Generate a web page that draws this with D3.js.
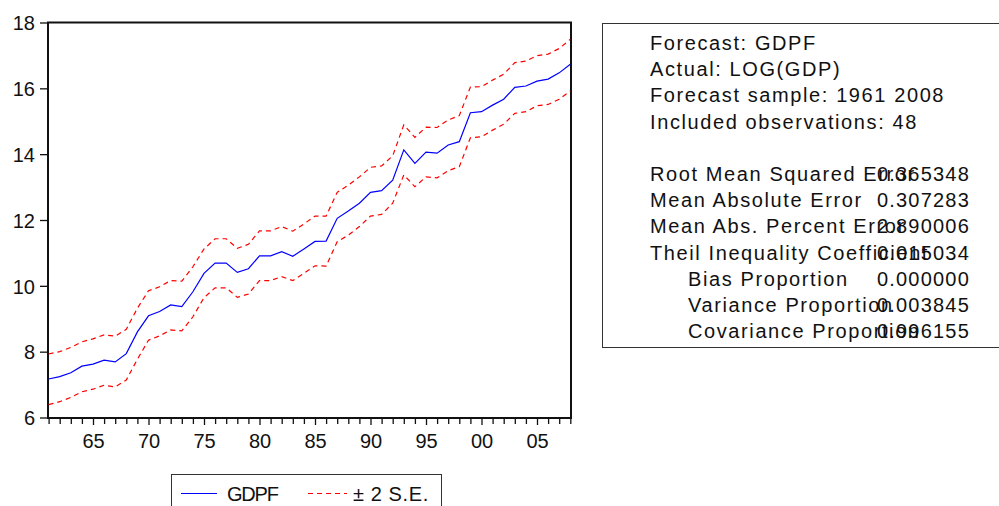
<!DOCTYPE html>
<html>
<head>
<meta charset="utf-8">
<script src="https://cdn.jsdelivr.net/npm/d3@7"></script>
<style>
  html, body { margin: 0; padding: 0; background: #fff; }
  svg { display: block; font-family: "Liberation Sans", Arial, sans-serif; }
</style>
</head>
<body>
<div id="chart"></div>
<script>
// Годы прогноза
const years = d3.range(1961, 2009);

// Прогноз GDPF
const gdpf = [
  7.17, 7.24, 7.36, 7.56, 7.62, 7.74, 7.69, 7.94, 8.60, 9.09,
  9.22, 9.42, 9.37, 9.82, 10.38, 10.69, 10.69, 10.41, 10.52, 10.91,
  10.91, 11.04, 10.90, 11.12, 11.35, 11.36, 12.05, 12.27, 12.51, 12.84,
  12.89, 13.21, 14.13, 13.72, 14.06, 14.03, 14.28, 14.38, 15.26, 15.29,
  15.49, 15.67, 16.03, 16.07, 16.22, 16.28, 16.47, 16.73
];

// Верхняя граница +2 S.E.
const upper = [
  7.93, 8.00, 8.13, 8.30, 8.39, 8.51, 8.47, 8.68, 9.32, 9.85,
  9.97, 10.16, 10.14, 10.58, 11.12, 11.43, 11.43, 11.14, 11.26, 11.67,
  11.67, 11.80, 11.66, 11.88, 12.12, 12.12, 12.84, 13.06, 13.31, 13.60,
  13.64, 13.95, 14.89, 14.51, 14.82, 14.81, 15.04, 15.17, 16.04, 16.05,
  16.25, 16.43, 16.78, 16.83, 16.99, 17.04, 17.21, 17.49
];

// Нижняя граница -2 S.E.
const lower = [
  6.39, 6.48, 6.61, 6.78, 6.86, 6.98, 6.93, 7.14, 7.77, 8.35,
  8.48, 8.66, 8.63, 9.06, 9.64, 9.94, 9.94, 9.65, 9.75, 10.16,
  10.16, 10.28, 10.16, 10.38, 10.61, 10.60, 11.34, 11.54, 11.80, 12.12,
  12.17, 12.51, 13.37, 13.01, 13.31, 13.28, 13.50, 13.62, 14.50, 14.53,
  14.73, 14.91, 15.24, 15.29, 15.47, 15.51, 15.67, 15.92
];

const yTicks = [6, 8, 10, 12, 14, 16, 18];
const xLabelYears = [1965, 1970, 1975, 1980, 1985, 1990, 1995, 2000, 2005];

// Текст справа
const headerLines = [
  "Forecast: GDPF",
  "Actual: LOG(GDP)",
  "Forecast sample: 1961 2008",
  "Included observations: 48"
];
const statNames = [
  "Root Mean Squared Error",
  "Mean Absolute Error",
  "Mean Abs. Percent Error",
  "Theil Inequality Coefficient",
  "Bias Proportion",
  "Variance Proportion",
  "Covariance Proportion"
];
const statValues = ["0.365348", "0.307283", "2.890006", "0.015034", "0.000000", "0.003845", "0.996155"];
const statIndent = [false, false, false, false, true, true, true];

const legendLabels = ["GDPF", "\u00b1 2 S.E."];

const width = 999;
const height = 506;

const svg = d3.select("#chart")
  .append("svg")
  .attr("width", width)
  .attr("height", height);

// Область графика
const plot = { left: 48, right: 571, top: 22.5, bottom: 418 };

const x = d3.scaleLinear()
  .domain([1961, 2008])
  .range([48.6, 570.3]);

const y = d3.scaleLinear()
  .domain([6, 18])
  .range([417.5, 22.5]);

// Рамка
svg.append("rect")
  .attr("x", plot.left)
  .attr("y", plot.top)
  .attr("width", plot.right - plot.left)
  .attr("height", plot.bottom - plot.top)
  .attr("fill", "none")
  .attr("stroke", "#111")
  .attr("stroke-width", 2);

// Ось Y
const yAxis = svg.append("g")
  .attr("transform", `translate(${plot.left},0)`)
  .call(d3.axisLeft(y).tickValues(yTicks).tickSize(8).tickPadding(5));
yAxis.select(".domain").remove();
yAxis.selectAll(".tick line").attr("stroke", "#111").attr("stroke-width", 1.3);
yAxis.selectAll(".tick text")
  .attr("font-size", 20)
  .attr("font-family", "Liberation Sans, Arial, sans-serif")
  .attr("fill", "#111")
  .attr("dy", "0.36em");

// Ось X: деления по годам
const xAxis = svg.append("g")
  .attr("transform", `translate(0,${plot.bottom})`)
  .call(d3.axisBottom(x)
    .tickValues(years)
    .tickSize(6)
    .tickFormat(d => xLabelYears.includes(d) ? String(d).slice(2) : ""));
xAxis.select(".domain").remove();
xAxis.selectAll(".tick line")
  .attr("stroke", "#111")
  .attr("stroke-width", 1.3)
  .attr("y2", d => xLabelYears.includes(d) ? 7 : 6);
xAxis.selectAll(".tick text")
  .attr("font-size", 20)
  .attr("font-family", "Liberation Sans, Arial, sans-serif")
  .attr("fill", "#111")
  .attr("y", 29.5)
  .attr("dy", 0);

// Линии
const line = d3.line()
  .x((d, i) => x(years[i]))
  .y(d => y(d));

svg.append("path")
  .datum(upper)
  .attr("fill", "none")
  .attr("stroke", "#ff0000")
  .attr("stroke-width", 1.2)
  .attr("stroke-dasharray", "5,4")
  .attr("d", line);

svg.append("path")
  .datum(lower)
  .attr("fill", "none")
  .attr("stroke", "#ff0000")
  .attr("stroke-width", 1.2)
  .attr("stroke-dasharray", "5,4")
  .attr("d", line);

svg.append("path")
  .datum(gdpf)
  .attr("fill", "none")
  .attr("stroke", "#0000ff")
  .attr("stroke-width", 1.2)
  .attr("d", line);

// Легенда
const legend = svg.append("g");
legend.append("rect")
  .attr("x", 171.5)
  .attr("y", 474.5)
  .attr("width", 270)
  .attr("height", 40)
  .attr("fill", "#fff")
  .attr("stroke", "#333")
  .attr("stroke-width", 1);

legend.append("line")
  .attr("x1", 181).attr("x2", 217)
  .attr("y1", 493.5).attr("y2", 493.5)
  .attr("stroke", "#0000ff").attr("stroke-width", 1.2);
legend.append("line")
  .attr("x1", 308).attr("x2", 347)
  .attr("y1", 493.5).attr("y2", 493.5)
  .attr("stroke", "#ff0000").attr("stroke-width", 1.2)
  .attr("stroke-dasharray", "5,4");

legend.selectAll("text")
  .data(legendLabels)
  .enter()
  .append("text")
  .attr("x", (d, i) => i === 0 ? 227 : 353)
  .attr("y", 500.5)
  .attr("font-size", 20)
  .attr("fill", "#111")
  .attr("letter-spacing", (d, i) => i === 0 ? -1.2 : 0.6)
  .text(d => d);

// Блок статистики
const stats = svg.append("g");
stats.append("rect")
  .attr("x", 602.5)
  .attr("y", 23.5)
  .attr("width", 420)
  .attr("height", 324)
  .attr("fill", "#fff")
  .attr("stroke", "#333")
  .attr("stroke-width", 1);

const lineStep = 26.2;
const firstBaseline = 50;

stats.selectAll(".hdr")
  .data(headerLines)
  .enter()
  .append("text")
  .attr("class", "hdr")
  .attr("x", 650)
  .attr("y", (d, i) => firstBaseline + i * lineStep)
  .attr("font-size", 20)
  .attr("letter-spacing", 1.6)
  .attr("fill", "#111")
  .text(d => d);

stats.selectAll(".sname")
  .data(statNames)
  .enter()
  .append("text")
  .attr("class", "sname")
  .attr("x", (d, i) => statIndent[i] ? 688 : 650)
  .attr("y", (d, i) => firstBaseline + (i + 5) * lineStep)
  .attr("font-size", 20)
  .attr("letter-spacing", 1.6)
  .attr("fill", "#111")
  .text(d => d);

stats.selectAll(".sval")
  .data(statValues)
  .enter()
  .append("text")
  .attr("class", "sval")
  .attr("x", 970)
  .attr("y", (d, i) => firstBaseline + (i + 5) * lineStep)
  .attr("font-size", 20)
  .attr("letter-spacing", 1.2)
  .attr("text-anchor", "end")
  .attr("fill", "#111")
  .text(d => d);
</script>
</body>
</html>
